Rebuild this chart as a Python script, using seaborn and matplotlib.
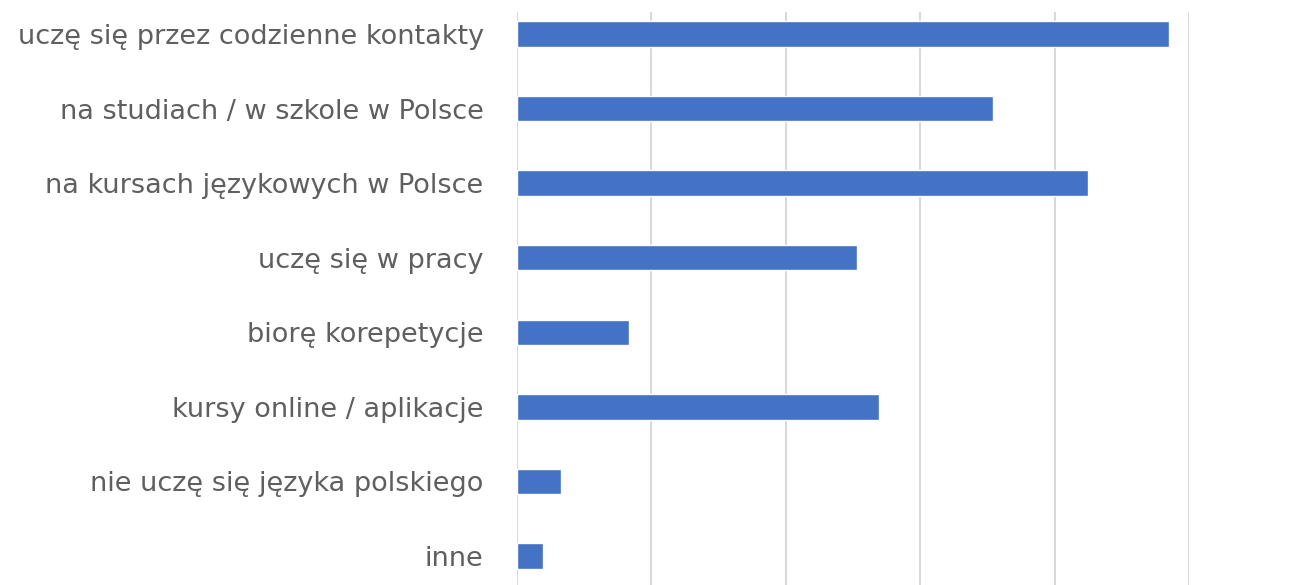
import matplotlib
matplotlib.use("Agg")
import matplotlib.pyplot as plt
import seaborn as sns
import pandas as pd

categories = [
    "uczę się przez codzienne kontakty",
    "na studiach / w szkole w Polsce",
    "na kursach językowych w Polsce",
    "uczę się w pracy",
    "biorę korepetycje",
    "kursy online / aplikacje",
    "nie uczę się języka polskiego",
    "inne",
]
values = [48.5, 35.4, 42.5, 25.3, 8.3, 26.9, 3.3, 1.9]

sns.set_theme(style="white")
plt.rcParams["font.family"] = ["DejaVu Sans"]

df = pd.DataFrame({"cat": categories, "val": values})

fig = plt.figure(figsize=(13.15, 5.85), dpi=100)
ax = fig.add_axes([517/1315, 0.0, (1189-517)/1315, 1 - 12/585])
sns.barplot(data=df, y="cat", x="val", color="#4472C4", saturation=1,
            width=0.34, ax=ax, orient="h")
ax.set_xlim(0, 50)
ax.set_xticks([0, 10, 20, 30, 40, 50])
ax.set_ylim(7.389, -0.295)
ax.xaxis.grid(True, color="#d9d9d9", linewidth=1.5)
ax.set_axisbelow(True)
for s in ax.spines.values():
    s.set_visible(False)
ax.tick_params(axis="x", labelbottom=False, length=0)
ax.tick_params(axis="y", length=0, pad=24, labelsize=19.5, labelcolor="#5f5f5f")
ax.set_xlabel("")
ax.set_ylabel("")
fig.savefig("out.png", dpi=100)
